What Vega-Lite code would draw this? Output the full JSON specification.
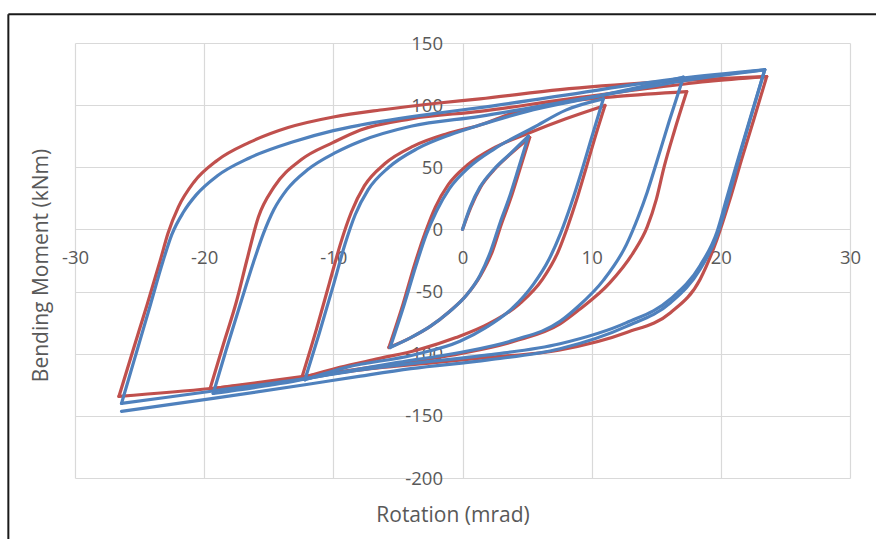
{
"$schema": "https://vega.github.io/schema/vega-lite/v6.json",
"width": 775, "height": 435,
"autosize": "none",
"padding": {"left": 75, "top": 43, "right": 26, "bottom": 61},
"background": "white",
"config": {"view": {"stroke": null}, "font": "Open Sans"},
"datasets": {
"loops": [
{"s":"r","b":"U1","x":0,"y":0},{"s":"r","b":"U1","x":0.65,"y":18},{"s":"r","b":"U1","x":1.4,"y":34},{"s":"r","b":"U1","x":2.45,"y":48},{"s":"r","b":"U1","x":3.75,"y":61},{"s":"r","b":"U1","x":5.2,"y":74},
{"s":"r","b":"L1","x":5.2,"y":74},{"s":"r","b":"L1","x":4.4,"y":47},{"s":"r","b":"L1","x":3.7,"y":24},{"s":"r","b":"L1","x":3.0,"y":4},{"s":"r","b":"L1","x":2.3,"y":-18},{"s":"r","b":"L1","x":1.4,"y":-37},{"s":"r","b":"L1","x":0.3,"y":-53},{"s":"r","b":"L1","x":-1.0,"y":-66},{"s":"r","b":"L1","x":-2.5,"y":-78},{"s":"r","b":"L1","x":-4.0,"y":-87},{"s":"r","b":"L1","x":-5.7,"y":-95},
{"s":"r","b":"U2","x":-5.7,"y":-95},{"s":"r","b":"U2","x":-4.6,"y":-60},{"s":"r","b":"U2","x":-3.7,"y":-28},{"s":"r","b":"U2","x":-2.9,"y":-3},{"s":"r","b":"U2","x":-2.1,"y":18},{"s":"r","b":"U2","x":-1.1,"y":36},{"s":"r","b":"U2","x":0.4,"y":52},{"s":"r","b":"U2","x":2.5,"y":66},{"s":"r","b":"U2","x":5,"y":77},{"s":"r","b":"U2","x":8,"y":89},{"s":"r","b":"U2","x":11.03,"y":99.7},
{"s":"r","b":"L2","x":11.03,"y":99.7},{"s":"r","b":"L2","x":10.2,"y":72},{"s":"r","b":"L2","x":9.5,"y":47},{"s":"r","b":"L2","x":8.84,"y":24},{"s":"r","b":"L2","x":8.1,"y":1},{"s":"r","b":"L2","x":7.4,"y":-18},{"s":"r","b":"L2","x":6.2,"y":-40},{"s":"r","b":"L2","x":4.4,"y":-60},{"s":"r","b":"L2","x":2,"y":-76},{"s":"r","b":"L2","x":-0.5,"y":-87},{"s":"r","b":"L2","x":-3.5,"y":-97},{"s":"r","b":"L2","x":-6.5,"y":-104},{"s":"r","b":"L2","x":-9.5,"y":-111},{"s":"r","b":"L2","x":-12.45,"y":-119.6},
{"s":"r","b":"U3","x":-12.45,"y":-119.6},{"s":"r","b":"U3","x":-11.3,"y":-80},{"s":"r","b":"U3","x":-10.3,"y":-43},{"s":"r","b":"U3","x":-9.4,"y":-10},{"s":"r","b":"U3","x":-8.6,"y":14},{"s":"r","b":"U3","x":-7.6,"y":35},{"s":"r","b":"U3","x":-6,"y":53},{"s":"r","b":"U3","x":-3.8,"y":67},{"s":"r","b":"U3","x":-1.2,"y":77},{"s":"r","b":"U3","x":1.35,"y":84},{"s":"r","b":"U3","x":4,"y":94},{"s":"r","b":"U3","x":7.55,"y":102},{"s":"r","b":"U3","x":12,"y":107},{"s":"r","b":"U3","x":17.36,"y":110.9},
{"s":"r","b":"L3","x":17.36,"y":110.9},{"s":"r","b":"L3","x":16.4,"y":79},{"s":"r","b":"L3","x":15.6,"y":50},{"s":"r","b":"L3","x":15.0,"y":24},{"s":"r","b":"L3","x":14.3,"y":2},{"s":"r","b":"L3","x":13.2,"y":-19},{"s":"r","b":"L3","x":11.4,"y":-43},{"s":"r","b":"L3","x":9.1,"y":-64},{"s":"r","b":"L3","x":7.55,"y":-76},{"s":"r","b":"L3","x":4,"y":-90},{"s":"r","b":"L3","x":-0.2,"y":-100},{"s":"r","b":"L3","x":-5,"y":-108},{"s":"r","b":"L3","x":-10,"y":-115},{"s":"r","b":"L3","x":-15,"y":-122},{"s":"r","b":"L3","x":-19.55,"y":-128.4},
{"s":"r","b":"U4","x":-19.55,"y":-128.4},{"s":"r","b":"U4","x":-18.5,"y":-92},{"s":"r","b":"U4","x":-17.5,"y":-58},{"s":"r","b":"U4","x":-16.7,"y":-25},{"s":"r","b":"U4","x":-15.8,"y":10},{"s":"r","b":"U4","x":-14.6,"y":34},{"s":"r","b":"U4","x":-12.5,"y":56},{"s":"r","b":"U4","x":-10,"y":70},{"s":"r","b":"U4","x":-7.9,"y":80},{"s":"r","b":"U4","x":-4,"y":89},{"s":"r","b":"U4","x":1.35,"y":95},{"s":"r","b":"U4","x":7.55,"y":104},{"s":"r","b":"U4","x":14,"y":113},{"s":"r","b":"U4","x":19,"y":119},{"s":"r","b":"U4","x":23.55,"y":123},
{"s":"r","b":"L4","x":23.55,"y":123},{"s":"r","b":"L4","x":22.6,"y":90},{"s":"r","b":"L4","x":21.6,"y":56},{"s":"r","b":"L4","x":20.7,"y":24},{"s":"r","b":"L4","x":19.7,"y":-8},{"s":"r","b":"L4","x":18.4,"y":-40},{"s":"r","b":"L4","x":16.1,"y":-67},{"s":"r","b":"L4","x":12.7,"y":-83},{"s":"r","b":"L4","x":7.55,"y":-97},{"s":"r","b":"L4","x":2,"y":-103},{"s":"r","b":"L4","x":-2,"y":-107},{"s":"r","b":"L4","x":-7.9,"y":-113},{"s":"r","b":"L4","x":-12.6,"y":-120},{"s":"r","b":"L4","x":-19.5,"y":-128},{"s":"r","b":"L4","x":-26.6,"y":-134.4},
{"s":"r","b":"U5","x":-26.6,"y":-134.4},{"s":"r","b":"U5","x":-25.5,"y":-97},{"s":"r","b":"U5","x":-24.4,"y":-60},{"s":"r","b":"U5","x":-23.4,"y":-25},{"s":"r","b":"U5","x":-22.8,"y":-3},{"s":"r","b":"U5","x":-22.0,"y":18},{"s":"r","b":"U5","x":-20.8,"y":38},{"s":"r","b":"U5","x":-19,"y":55.5},{"s":"r","b":"U5","x":-16.5,"y":70},{"s":"r","b":"U5","x":-13.5,"y":82},{"s":"r","b":"U5","x":-10,"y":90.5},{"s":"r","b":"U5","x":-6,"y":96.5},{"s":"r","b":"U5","x":-2,"y":101.5},{"s":"r","b":"U5","x":1.35,"y":105},{"s":"r","b":"U5","x":7.55,"y":112.5},{"s":"r","b":"U5","x":15,"y":118.5},{"s":"r","b":"U5","x":23.55,"y":123},

{"s":"b","b":"U1","x":0,"y":0},{"s":"b","b":"U1","x":0.6,"y":18},{"s":"b","b":"U1","x":1.35,"y":34},{"s":"b","b":"U1","x":2.4,"y":48},{"s":"b","b":"U1","x":3.7,"y":61},{"s":"b","b":"U1","x":5.1,"y":75},
{"s":"b","b":"L1","x":5.1,"y":75},{"s":"b","b":"L1","x":4.3,"y":48},{"s":"b","b":"L1","x":3.6,"y":25},{"s":"b","b":"L1","x":2.9,"y":5},{"s":"b","b":"L1","x":2.2,"y":-17},{"s":"b","b":"L1","x":1.35,"y":-37},{"s":"b","b":"L1","x":0.3,"y":-53},{"s":"b","b":"L1","x":-1.0,"y":-66},{"s":"b","b":"L1","x":-2.5,"y":-78},{"s":"b","b":"L1","x":-4.0,"y":-87},{"s":"b","b":"L1","x":-5.6,"y":-95},
{"s":"b","b":"U2","x":-5.6,"y":-95},{"s":"b","b":"U2","x":-4.5,"y":-60},{"s":"b","b":"U2","x":-3.6,"y":-29},{"s":"b","b":"U2","x":-2.8,"y":-4},{"s":"b","b":"U2","x":-2.0,"y":15},{"s":"b","b":"U2","x":-1.0,"y":33},{"s":"b","b":"U2","x":0.5,"y":50},{"s":"b","b":"U2","x":2.5,"y":65},{"s":"b","b":"U2","x":5.5,"y":82},{"s":"b","b":"U2","x":8,"y":96},{"s":"b","b":"U2","x":10.9,"y":105},
{"s":"b","b":"L2","x":10.9,"y":105},{"s":"b","b":"L2","x":10.0,"y":74},{"s":"b","b":"L2","x":9.2,"y":46},{"s":"b","b":"L2","x":8.4,"y":20},{"s":"b","b":"L2","x":7.6,"y":-3},{"s":"b","b":"L2","x":6.7,"y":-24},{"s":"b","b":"L2","x":5.5,"y":-44},{"s":"b","b":"L2","x":3.9,"y":-63},{"s":"b","b":"L2","x":1.8,"y":-79},{"s":"b","b":"L2","x":-0.2,"y":-90},{"s":"b","b":"L2","x":-3.8,"y":-101},{"s":"b","b":"L2","x":-9,"y":-111},{"s":"b","b":"L2","x":-12.2,"y":-121},
{"s":"b","b":"U3","x":-12.2,"y":-121},{"s":"b","b":"U3","x":-11.1,"y":-84},{"s":"b","b":"U3","x":-10.0,"y":-45},{"s":"b","b":"U3","x":-9.1,"y":-12},{"s":"b","b":"U3","x":-8.3,"y":12},{"s":"b","b":"U3","x":-7.3,"y":32},{"s":"b","b":"U3","x":-5.7,"y":50},{"s":"b","b":"U3","x":-3.5,"y":65},{"s":"b","b":"U3","x":-1,"y":76},{"s":"b","b":"U3","x":1.35,"y":84},{"s":"b","b":"U3","x":5,"y":95},{"s":"b","b":"U3","x":9,"y":104},{"s":"b","b":"U3","x":13,"y":113},{"s":"b","b":"U3","x":17.1,"y":122.5},
{"s":"b","b":"L3","x":17.1,"y":122.5},{"s":"b","b":"L3","x":16.0,"y":87},{"s":"b","b":"L3","x":15.0,"y":53},{"s":"b","b":"L3","x":14.3,"y":30},{"s":"b","b":"L3","x":13.6,"y":10},{"s":"b","b":"L3","x":12.7,"y":-12},{"s":"b","b":"L3","x":10.9,"y":-41},{"s":"b","b":"L3","x":8.84,"y":-63},{"s":"b","b":"L3","x":7.55,"y":-74},{"s":"b","b":"L3","x":4,"y":-89},{"s":"b","b":"L3","x":-0.2,"y":-99},{"s":"b","b":"L3","x":-5,"y":-107},{"s":"b","b":"L3","x":-10,"y":-116},{"s":"b","b":"L3","x":-14.1,"y":-124},{"s":"b","b":"L3","x":-19.3,"y":-132},
{"s":"b","b":"U4","x":-19.3,"y":-132},{"s":"b","b":"U4","x":-18.3,"y":-97},{"s":"b","b":"U4","x":-17.2,"y":-60},{"s":"b","b":"U4","x":-16.2,"y":-27},{"s":"b","b":"U4","x":-15.4,"y":-3},{"s":"b","b":"U4","x":-14.6,"y":16},{"s":"b","b":"U4","x":-13.6,"y":32},{"s":"b","b":"U4","x":-12,"y":48},{"s":"b","b":"U4","x":-9.8,"y":62},{"s":"b","b":"U4","x":-7.9,"y":71},{"s":"b","b":"U4","x":-4,"y":83},{"s":"b","b":"U4","x":1.35,"y":91},{"s":"b","b":"U4","x":7.55,"y":102},{"s":"b","b":"U4","x":13,"y":112},{"s":"b","b":"U4","x":18,"y":121},{"s":"b","b":"U4","x":23.4,"y":128.5},
{"s":"b","b":"L4","x":23.4,"y":128.5},{"s":"b","b":"L4","x":22.4,"y":94},{"s":"b","b":"L4","x":21.4,"y":59},{"s":"b","b":"L4","x":20.45,"y":25},{"s":"b","b":"L4","x":19.7,"y":-2},{"s":"b","b":"L4","x":18.4,"y":-29},{"s":"b","b":"L4","x":16.1,"y":-56},{"s":"b","b":"L4","x":12.7,"y":-75},{"s":"b","b":"L4","x":7.55,"y":-92},{"s":"b","b":"L4","x":2,"y":-101},{"s":"b","b":"L4","x":-4,"y":-108},{"s":"b","b":"L4","x":-7.9,"y":-113},{"s":"b","b":"L4","x":-12.2,"y":-120},{"s":"b","b":"L4","x":-19.3,"y":-130},{"s":"b","b":"L4","x":-26.4,"y":-140},
{"s":"b","b":"U5","x":-26.4,"y":-140},{"s":"b","b":"U5","x":-25.3,"y":-101},{"s":"b","b":"U5","x":-24.2,"y":-62},{"s":"b","b":"U5","x":-23.2,"y":-26},{"s":"b","b":"U5","x":-22.5,"y":-4},{"s":"b","b":"U5","x":-21.6,"y":14},{"s":"b","b":"U5","x":-20.6,"y":28},{"s":"b","b":"U5","x":-19,"y":43},{"s":"b","b":"U5","x":-16.5,"y":57.5},{"s":"b","b":"U5","x":-13.1,"y":70.5},{"s":"b","b":"U5","x":-10,"y":79.5},{"s":"b","b":"U5","x":-7.9,"y":84},{"s":"b","b":"U5","x":-2,"y":93.5},{"s":"b","b":"U5","x":1.35,"y":98},{"s":"b","b":"U5","x":7.55,"y":107.5},{"s":"b","b":"U5","x":16.8,"y":121.5},{"s":"b","b":"U5","x":23.4,"y":128.5},
{"s":"b","b":"L5","x":23.4,"y":128.5},{"s":"b","b":"L5","x":22.4,"y":93},{"s":"b","b":"L5","x":21.4,"y":57},{"s":"b","b":"L5","x":20.5,"y":22},{"s":"b","b":"L5","x":19.7,"y":-5},{"s":"b","b":"L5","x":18.4,"y":-32},{"s":"b","b":"L5","x":16.1,"y":-59},{"s":"b","b":"L5","x":12.7,"y":-78},{"s":"b","b":"L5","x":7.55,"y":-96},{"s":"b","b":"L5","x":2,"y":-105},{"s":"b","b":"L5","x":-4,"y":-112},{"s":"b","b":"L5","x":-7.9,"y":-118},{"s":"b","b":"L5","x":-12.2,"y":-125},{"s":"b","b":"L5","x":-19.3,"y":-136},{"s":"b","b":"L5","x":-26.4,"y":-146.4}
]
},
"layer": [
{
"data": {"name": "loops"},
"transform": [{"filter": "datum.s == 'r'"}],
"mark": {"type": "line", "interpolate": "monotone", "strokeWidth": 3.2, "strokeCap": "round", "strokeJoin": "round", "color": "#C0504D"},
"encoding": {
"x": {"field": "x", "type": "quantitative",
"scale": {"domain": [-30, 30], "nice": false, "zero": false},
"axis": {"values": [-30, -20, -10, 0, 10, 20, 30], "offset": -248.6, "domain": false, "ticks": false,
"labelExpr": "toString(datum.value)",
"labelPadding": 19, "labelFontSize": 18.5, "labelColor": "#595959", "labelFont": "Open Sans", "labelFlush": false, "labelOverlap": false,
"grid": true, "gridColor": "#d9d9d9", "gridWidth": 1.2,
"title": "Rotation (mrad)", "titleFontSize": 21, "titleFontWeight": "normal", "titleColor": "#595959", "titleFont": "Open Sans",
"titleX": 377.5, "titleY": 292, "titleBaseline": "alphabetic", "titleAlign": "center", "titleAnchor": "middle"}},
"y": {"field": "y", "type": "quantitative",
"scale": {"domain": [-200, 150], "nice": false, "zero": false},
"axis": {"values": [-200, -150, -100, -50, 0, 50, 100, 150], "offset": -387.5, "domain": false, "ticks": false,
"labelExpr": "toString(datum.value)",
"labelPadding": 20, "labelFontSize": 18.5, "labelColor": "#595959", "labelFont": "Open Sans", "labelFlush": false, "labelOverlap": false,
"grid": true, "gridColor": "#d9d9d9", "gridWidth": 1.2,
"title": "Bending Moment (kNm)", "titleFontSize": 21, "titleFontWeight": "normal", "titleColor": "#595959", "titleFont": "Open Sans",
"titleX": -421, "titleY": 222, "titleAngle": 270, "titleBaseline": "middle", "titleAlign": "center", "titleAnchor": "middle"}},
"detail": {"field": "b"}
}
},
{
"data": {"name": "loops"},
"transform": [{"filter": "datum.s == 'b'"}],
"mark": {"type": "line", "interpolate": "monotone", "strokeWidth": 3.2, "strokeCap": "round", "strokeJoin": "round", "color": "#4F81BD"},
"encoding": {
"x": {"field": "x", "type": "quantitative"},
"y": {"field": "y", "type": "quantitative"},
"detail": {"field": "b"}
}
},
{
"data": {"values": [{}]},
"mark": {"type": "rule", "color": "#1a1a1a", "strokeWidth": 2, "clip": false},
"encoding": {
"x": {"datum": -35.16, "type": "quantitative"},
"x2": {"datum": 33},
"y": {"datum": 173.1, "type": "quantitative"}
}
},
{
"data": {"values": [{}]},
"mark": {"type": "rule", "color": "#1a1a1a", "strokeWidth": 2, "clip": false},
"encoding": {
"x": {"datum": -35.16, "type": "quantitative"},
"y": {"datum": 173.1, "type": "quantitative"},
"y2": {"datum": -260}
}
}
]
}
